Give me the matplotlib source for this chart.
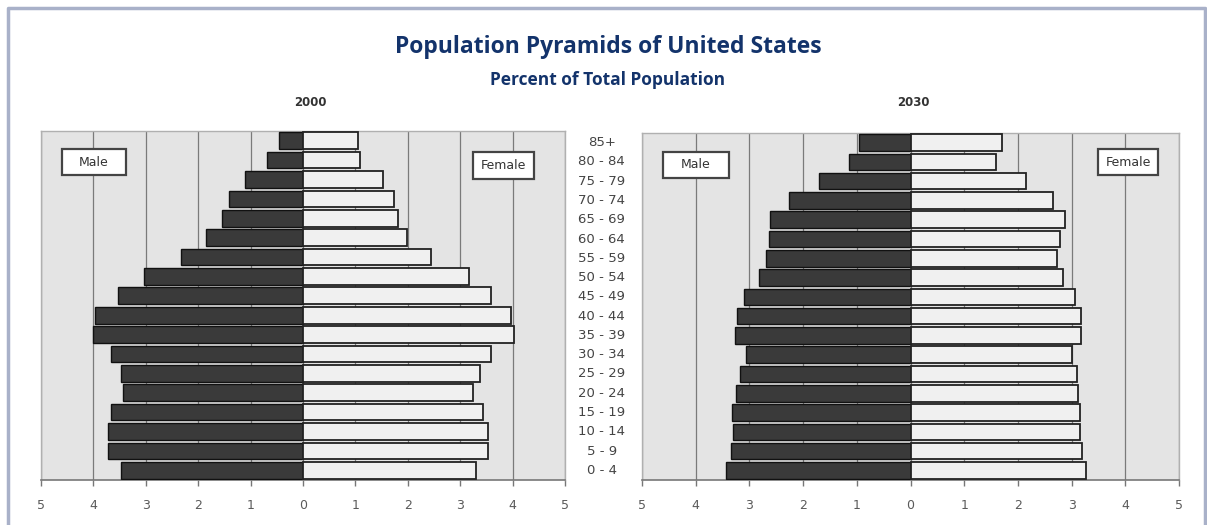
import matplotlib.pyplot as plt
from matplotlib.patches import Rectangle
from matplotlib.lines import Line2D
from matplotlib.transforms import blended_transform_factory
import numpy as np

# age groups, top to bottom
ages = ['85+', '80 - 84', '75 - 79', '70 - 74', '65 - 69', '60 - 64', '55 - 59',
        '50 - 54', '45 - 49', '40 - 44', '35 - 39', '30 - 34', '25 - 29',
        '20 - 24', '15 - 19', '10 - 14', '5 - 9', '0 - 4']

# percent of total population
male_2000 = [0.46, 0.68, 1.11, 1.41, 1.55, 1.85, 2.33, 3.04, 3.54,
             3.97, 4.01, 3.67, 3.48, 3.43, 3.67, 3.72, 3.72, 3.48]
female_2000 = [1.05, 1.09, 1.53, 1.73, 1.81, 1.99, 2.45, 3.16, 3.59,
               3.97, 4.02, 3.58, 3.38, 3.25, 3.44, 3.53, 3.54, 3.31]
male_2030 = [0.95, 1.14, 1.71, 2.27, 2.61, 2.64, 2.70, 2.83, 3.10,
             3.23, 3.26, 3.07, 3.17, 3.25, 3.32, 3.31, 3.35, 3.43]
female_2030 = [1.71, 1.60, 2.16, 2.65, 2.87, 2.78, 2.73, 2.84, 3.07,
               3.17, 3.18, 3.01, 3.10, 3.12, 3.15, 3.15, 3.20, 3.27]

ticks = [-5, -4, -3, -2, -1, 0, 1, 2, 3, 4, 5]
tick_labels = ['5', '4', '3', '2', '1', '0', '1', '2', '3', '4', '5']

navy = '#13336b'
grey_txt = '#5a5a5a'

fig = plt.figure(figsize=(12.07, 5.25), dpi=100)

ax1 = fig.add_axes([0.034, 0.0857, 0.4341, 0.6648])
ax2 = fig.add_axes([0.5319, 0.0857, 0.4449, 0.661])

y = np.arange(len(ages))


def pyramid(ax, male, female, box_pos):
    ax.set_facecolor('#e4e4e4')
    ax.barh(y, -np.array(male), height=0.86, color='#3a3a3a',
            edgecolor='#111111', linewidth=1.0, zorder=3)
    ax.barh(y, female, height=0.86, color='#f0f0f0',
            edgecolor='#222222', linewidth=1.3, zorder=3)
    ax.set_xlim(-5, 5)
    ax.set_ylim(len(ages) - 0.5, -0.5)
    ax.set_xticks(ticks)
    ax.set_xticklabels(tick_labels, color=grey_txt, fontsize=9,
                       family='DejaVu Sans')
    ax.set_yticks([])
    ax.tick_params(axis='x', length=4, width=1, color='#777777', pad=10)
    for t in ticks:
        ax.axvline(t, color='#7a7a7a', linewidth=0.9, zorder=1)
    for s in ['top', 'left', 'right']:
        ax.spines[s].set_color('#b0b0b0')
        ax.spines[s].set_linewidth(1.0)
    ax.spines['bottom'].set_color('#777777')
    ax.spines['bottom'].set_linewidth(1.2)
    # legend boxes
    for (cx, cy, w, h), label in zip(box_pos, ['Male', 'Female']):
        ax.add_patch(Rectangle((cx - w / 2, cy - h / 2), w, h,
                               transform=ax.transAxes, facecolor='white',
                               edgecolor='#444444', linewidth=1.6, zorder=5))
        ax.text(cx, cy, label, transform=ax.transAxes, ha='center',
                va='center', fontsize=9, color='#333333',
                family='DejaVu Sans', zorder=6)


pyramid(ax1, male_2000, female_2000,
        [(0.101, 0.911, 0.122, 0.072), (0.882, 0.901, 0.116, 0.076)])
pyramid(ax2, male_2030, female_2030,
        [(0.1006, 0.909, 0.123, 0.075), (0.905, 0.916, 0.112, 0.075)])

# age labels between the two panels
tr = blended_transform_factory(fig.transFigure, ax2.transData)
for i, a in enumerate(ages):
    ax2.text(0.4985, i, a, transform=tr, ha='center', va='center',
             fontsize=9.5, color='#444444', family='DejaVu Sans')

fig.text(0.257, 0.804, '2000', ha='center', va='center', fontsize=8.5,
         fontweight='bold', color='#333333', family='DejaVu Sans')
fig.text(0.757, 0.804, '2030', ha='center', va='center', fontsize=8.5,
         fontweight='bold', color='#333333', family='DejaVu Sans')

fig.text(0.504, 0.910, 'Population Pyramids of United States', ha='center',
         va='center', fontsize=16.5, fontweight='bold', color=navy,
         family='Open Sans')
fig.text(0.503, 0.848, 'Percent of Total Population', ha='center',
         va='center', fontsize=12.5, fontweight='bold', color=navy,
         family='Open Sans')

# outer frame
frame_col = '#a9b1c9'
fig.add_artist(Line2D([0.0066, 0.0066, 0.9985, 0.9985],
                      [0.0, 0.985, 0.985, 0.0], transform=fig.transFigure,
                      color=frame_col, linewidth=2.5))

fig.savefig('out.png', dpi=100)
